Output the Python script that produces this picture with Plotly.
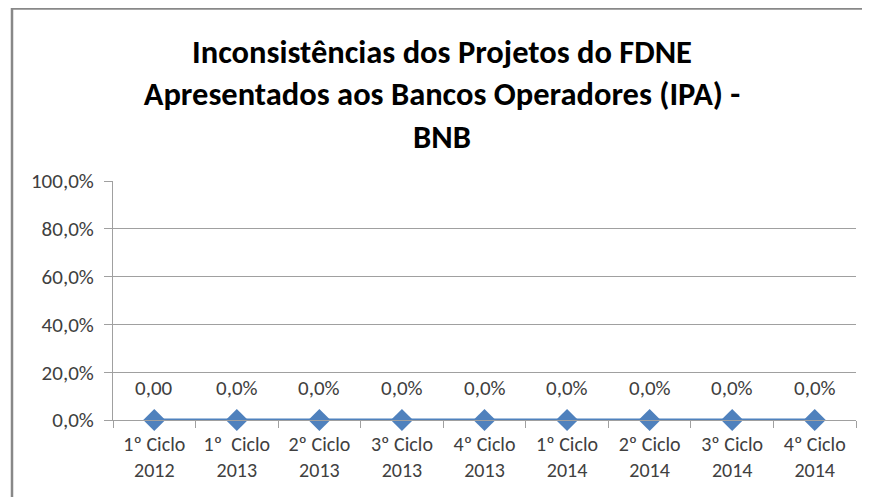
import plotly.graph_objects as go

categories = ["1º Ciclo<br>2012", "1º  Ciclo<br>2013", "2º Ciclo<br>2013", "3º Ciclo<br>2013",
              "4º Ciclo<br>2013", "1º Ciclo<br>2014", "2º Ciclo<br>2014", "3º Ciclo<br>2014",
              "4º Ciclo<br>2014"]
values = [0.0, 0.0, 0.0, 0.0, 0.0, 0.0, 0.0, 0.0, 0.0]
labels = ["0,00", "0,0%", "0,0%", "0,0%", "0,0%", "0,0%", "0,0%", "0,0%", "0,0%"]
ytick_vals = [0, 20, 40, 60, 80, 100]
ytick_text = ["0,0%", "20,0%", "40,0%", "60,0%", "80,0%", "100,0%"]

FONT = "Carlito, Lato, sans-serif"
BLUE = "#4F81BD"
TXT = "#404040"

W, H = 862, 489
L, R, T, B = 105, 14, 173, 77

fig = go.Figure()
fig.add_trace(go.Scatter(
    x=categories, y=values, mode="lines+markers",
    line=dict(color=BLUE, width=3),
    marker=dict(symbol="diamond", size=17, color=BLUE),
    hoverinfo="skip", cliponaxis=False,
))

for c, v, t in zip(categories, values, labels):
    fig.add_annotation(x=c, y=v, text=t, showarrow=False, yshift=32,
                       font=dict(family=FONT, size=21, color=TXT))

pw = W - L - R
ph = H - T - B
def px(xp):
    return (xp - L) / pw
def py(yp):
    return (H - B - yp) / ph

fig.update_layout(
    width=W, height=H,
    margin=dict(l=L, r=R, t=T, b=B),
    paper_bgcolor="white", plot_bgcolor="white",
    showlegend=False,
    title=dict(
        text="<b>Inconsistências dos Projetos do FDNE<br>Apresentados aos Bancos Operadores (IPA) -<br>BNB</b>",
        x=434 / W, xanchor="center", y=1 - 55 / H, yanchor="top", yref="container",
        font=dict(family=FONT, size=32.5, color="black"),
    ),
    xaxis=dict(
        type="category", tickson="boundaries", ticks="outside", ticklen=7,
        tickcolor="#A0A0A0", showline=True, linecolor="#A0A0A0", linewidth=1,
        showgrid=False, tickfont=dict(family=FONT, size=20, color=TXT),
        range=[-0.5, 8.5], zeroline=False, ticklabelstandoff=6,
    ),
    yaxis=dict(
        range=[0, 100], tickvals=ytick_vals, ticktext=ytick_text,
        ticks="outside", ticklen=8, tickcolor="#A0A0A0",
        showline=True, linecolor="#A0A0A0", linewidth=1,
        showgrid=True, gridcolor="#A0A0A0", gridwidth=1, zeroline=False,
        tickfont=dict(family=FONT, size=21, color=TXT), ticklabelstandoff=6,
    ),
    shapes=[
        dict(type="line", xref="paper", yref="paper", x0=px(4), x1=px(4), y0=py(0), y1=py(H),
             line=dict(color="#888888", width=2.5)),
        dict(type="line", xref="paper", yref="paper", x0=px(4), x1=px(W), y0=py(0.5), y1=py(0.5),
             line=dict(color="#888888", width=2.5)),
    ],
)

fig.write_html("out.html")
